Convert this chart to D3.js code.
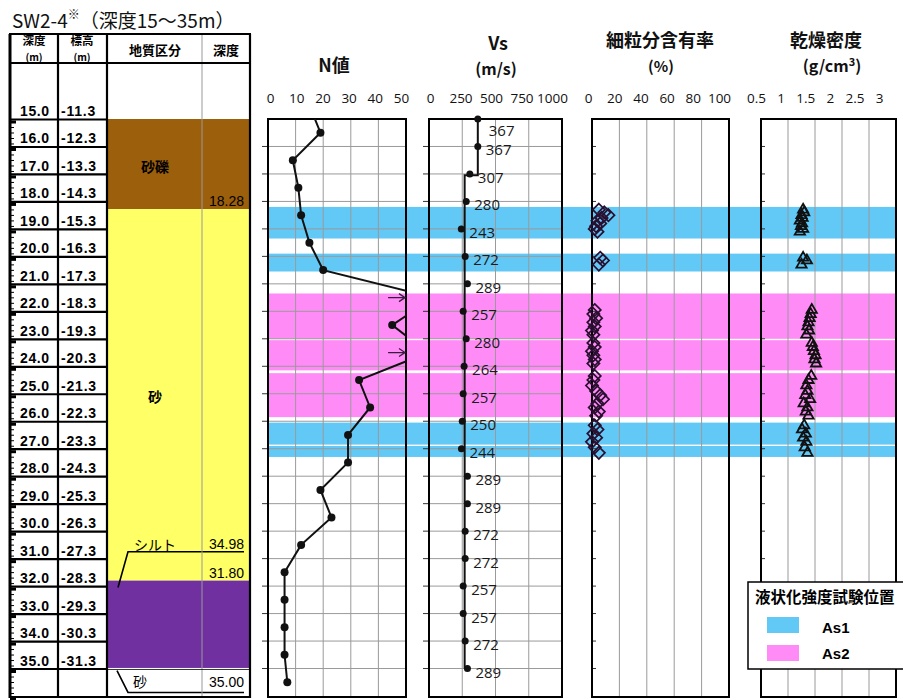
<!DOCTYPE html>
<html>
<head>
<meta charset="utf-8">
<script src="https://cdn.jsdelivr.net/npm/d3@7"></script>
<style>
  body { margin: 0; background: #fff; }
  svg { display: block; font-family: "Liberation Sans", "Noto Sans CJK JP", sans-serif; }
</style>
</head>
<body>
<div id="chart"></div>
<script>
// ---- data ----
var depthTicks = [15, 16, 17, 18, 19, 20, 21, 22, 23, 24, 25, 26, 27, 28, 29, 30, 31, 32, 33, 34, 35];
var depthLabels = ["15.0", "16.0", "17.0", "18.0", "19.0", "20.0", "21.0", "22.0", "23.0", "24.0", "25.0",
  "26.0", "27.0", "28.0", "29.0", "30.0", "31.0", "32.0", "33.0", "34.0", "35.0"];
var elevLabels = ["-11.3", "-12.3", "-13.3", "-14.3", "-15.3", "-16.3", "-17.3", "-18.3", "-19.3", "-20.3", "-21.3",
  "-22.3", "-23.3", "-24.3", "-25.3", "-26.3", "-27.3", "-28.3", "-29.3", "-30.3", "-31.3"];

// geology
var layerTop = [15.00, 18.28, 31.80, 34.98];
var layerBottom = [18.28, 31.80, 34.98, 35.00];
var layerName = ["砂礫", "砂", "シルト", "砂"];

// N value (SPT)
var nDepth = [14.5, 15.5, 16.5, 17.5, 18.5, 19.5, 20.5, 21.5, 22.5, 23.5, 24.5, 25.5, 26.5, 27.5, 28.5, 29.5, 30.5, 31.5, 32.5, 33.5, 34.5, 35.5];
var nValue = [15, 19, 9, 11, 12, 15, 20, 60, 45, 58, 33, 37, 29, 29, 19, 23, 12, 6, 6, 6, 6, 7];
var nTicks = [0, 10, 20, 30, 40, 50];

// Vs (PS logging)
var vsDepth = [15, 16, 17, 18, 19, 20, 21, 22, 23, 24, 25, 26, 27, 28, 29, 30, 31, 32, 33, 34, 35];
var vsValue = [367, 367, 307, 280, 243, 272, 289, 257, 280, 264, 257, 250, 244, 289, 289, 272, 272, 257, 257, 272, 289];
var vsStepDepth = [15, 17.05, 17.05, 35];
var vsStepValue = [367, 367, 268, 268];
var vsTicks = [0, 250, 500, 750, 1000];

// samples: fines content (%) and dry density (g/cm3)
var sampleDepth = [18.3, 18.4, 18.5, 18.6, 18.7, 18.8, 18.9, 19.0, 19.1,
  20.05, 20.15, 20.3,
  21.95, 22.1, 22.25, 22.4, 22.55, 22.7, 22.85,
  23.15, 23.3, 23.45, 23.6, 23.75, 23.9,
  24.35, 24.5, 24.7, 24.9, 25.05, 25.2, 25.35, 25.5, 25.65, 25.8,
  26.15, 26.3, 26.45, 26.6, 26.75, 26.95, 27.15];
var finesContent = [5, 9, 12, 7, 4, 6, 3, 2, 4,
  6, 8, 5,
  2, 1, 3, 1, 2, 0, 1,
  1, 2, 0, 1, 2, 1,
  2, 1, 0, 3, 6, 8, 4, 2, 5, 3,
  2, 4, 1, 3, 0, 2, 5];
var dryDensity = [1.28, 1.30, 1.25, 1.27, 1.22, 1.26, 1.24, 1.28, 1.22,
  1.28, 1.35, 1.25,
  1.44, 1.42, 1.40, 1.38, 1.36, 1.39, 1.34,
  1.44, 1.46, 1.48, 1.51, 1.49, 1.52,
  1.43, 1.38, 1.34, 1.36, 1.32, 1.41, 1.29, 1.36, 1.33, 1.38,
  1.30, 1.26, 1.33, 1.28, 1.34, 1.31, 1.36];
var fcTicks = [0, 20, 40, 60, 80, 100];
var ddTicks = [0.5, 1, 1.5, 2, 2.5, 3];

// liquefaction test sample positions
var bandTop = [18.2, 19.9, 26.05, 26.9, 21.35, 23.05, 24.25];
var bandBottom = [19.35, 20.55, 26.85, 27.3, 23.0, 24.15, 25.85];
var bandType = ["As1", "As1", "As1", "As1", "As2", "As2", "As2"];
var legendLabels = ["As1", "As2"];

// ---- styles ----
var layerColor = ["#9c5f0c", "#ffff66", "#7030a0", "#ffffff"];
var bandColor = { As1: "#62c8f6", As2: "#ff8cf6" };
var jp = "'Noto Sans CJK JP', sans-serif";

var svg = d3.select("#chart").append("svg").attr("width", 903).attr("height", 700);

var y = d3.scaleLinear().domain([15, 36]).range([119, 696]);
var plotTop = 119, plotBottom = 697;

// ---- title ----
var title = svg.append("text").attr("x", 12).attr("y", 28)
  .style("font-family", jp).style("font-size", "19px").attr("fill", "#111");
title.append("tspan").text("SW2-4");
title.append("tspan").attr("dy", -9).style("font-size", "12px").text("※");
title.append("tspan").attr("dy", 9).text("（深度15～35m）");

// ---- left table ----
var colX = [10, 58, 107, 202, 250];
var tbl = svg.append("g");

tbl.selectAll("rect.layer").data(layerTop).enter().append("rect")
  .attr("x", colX[2]).attr("width", colX[4] - colX[2])
  .attr("y", function (d) { return y(d); })
  .attr("height", function (d, i) { return y(layerBottom[i]) - y(d); })
  .attr("fill", function (d, i) { return layerColor[i]; });

// row lines for depth / elevation columns
tbl.selectAll("line.row").data(depthTicks).enter().append("line")
  .attr("x1", colX[0]).attr("x2", colX[2])
  .attr("y1", function (d) { return y(d) + 0.5; }).attr("y2", function (d) { return y(d) + 0.5; })
  .attr("stroke", "#000").attr("stroke-width", 2.2);

// ruler ticks in depth column
var rulerTicks = d3.range(150, 361, 2).map(function (v) { return v / 10; });
tbl.selectAll("line.rt").data(rulerTicks).enter().append("line")
  .attr("x1", colX[0]).attr("x2", function (d) { return Math.abs(d - Math.round(d)) < 0.01 ? colX[0] + 6 : colX[0] + 4; })
  .attr("y1", function (d) { return y(d) + 3; }).attr("y2", function (d) { return y(d) + 3; })
  .attr("stroke", "#000").attr("stroke-width", function (d) { return Math.abs(d - Math.round(d)) < 0.01 ? 3 : 1; });

tbl.selectAll("text.dep").data(depthLabels).enter().append("text")
  .attr("x", colX[0] + 10).attr("y", function (d, i) { return y(depthTicks[i]) - 3; })
  .style("font-size", "14px").style("font-weight", "bold").style("letter-spacing", "0.6px")
  .text(function (d) { return d; });
tbl.selectAll("text.elv").data(elevLabels).enter().append("text")
  .attr("x", colX[1] + 3).attr("y", function (d, i) { return y(depthTicks[i]) - 3; })
  .style("font-size", "14px").style("font-weight", "bold").style("letter-spacing", "0.8px")
  .text(function (d) { return d; });

// layer names and depths
var nameDepth = [16.75, 25.1, 30.75, 35.87];
tbl.append("text").attr("x", 155).attr("y", y(nameDepth[0]) + 5).attr("text-anchor", "middle")
  .style("font-family", jp).style("font-size", "14px").style("font-weight", "bold").text(layerName[0]);
tbl.append("text").attr("x", 155).attr("y", y(nameDepth[1]) + 5).attr("text-anchor", "middle")
  .style("font-family", jp).style("font-size", "14px").style("font-weight", "bold").text(layerName[1]);
tbl.append("text").attr("x", 244).attr("y", y(layerBottom[0]) - 3).attr("text-anchor", "end")
  .style("font-size", "14px").text(layerBottom[0].toFixed(2));
tbl.append("text").attr("x", 244).attr("y", y(layerBottom[1]) - 3).attr("text-anchor", "end")
  .style("font-size", "14px").text(layerBottom[1].toFixed(2));

// silt label with leader
var yS = y(nameDepth[2]);
tbl.append("text").attr("x", 155).attr("y", yS - 2).attr("text-anchor", "middle")
  .style("font-family", jp).style("font-size", "14px").text(layerName[2]);
tbl.append("text").attr("x", 244).attr("y", yS - 3).attr("text-anchor", "end")
  .style("font-size", "14px").text(layerBottom[2].toFixed(2));
tbl.append("polyline").attr("points", [[118, y(32.05)], [128, yS], [244, yS]].join(" "))
  .attr("fill", "none").attr("stroke", "#000").attr("stroke-width", 1.6);

// bottom sand label with leader
var yB = y(nameDepth[3]);
tbl.append("text").attr("x", 140).attr("y", yB - 5).attr("text-anchor", "middle")
  .style("font-family", jp).style("font-size", "14px").text(layerName[3]);
tbl.append("text").attr("x", 244).attr("y", yB - 5).attr("text-anchor", "end")
  .style("font-size", "14px").text(layerBottom[3].toFixed(2));
tbl.append("polyline").attr("points", [[117, y(layerBottom[3]) + 2], [128, yB], [244, yB]].join(" "))
  .attr("fill", "none").attr("stroke", "#000").attr("stroke-width", 1.6);

// table frame
tbl.append("line").attr("x1", colX[3]).attr("x2", colX[3]).attr("y1", 63).attr("y2", plotBottom)
  .attr("stroke", "#999").attr("stroke-width", 1);
[[colX[0], 3], [colX[1], 2.2], [colX[2], 2.2], [colX[4], 2.2]].forEach(function (c) {
  tbl.append("line").attr("x1", c[0]).attr("x2", c[0]).attr("y1", 34).attr("y2", plotBottom + 1)
    .attr("stroke", "#000").attr("stroke-width", c[1]);
});
tbl.append("line").attr("x1", colX[3]).attr("x2", colX[3]).attr("y1", 34).attr("y2", 63).attr("stroke", "#999");
[34, 63, plotBottom].forEach(function (yy) {
  tbl.append("line").attr("x1", colX[0] - 1).attr("x2", colX[4] + 1).attr("y1", yy).attr("y2", yy)
    .attr("stroke", "#000").attr("stroke-width", 2.2);
});
tbl.append("line").attr("x1", colX[2]).attr("x2", colX[4]).attr("y1", y(layerBottom[2]) + 1.5).attr("y2", y(layerBottom[2]) + 1.5)
  .attr("stroke", "#000").attr("stroke-width", 0.8);

// headers
function hdr(x, yy, t, size) {
  tbl.append("text").attr("x", x).attr("y", yy).attr("text-anchor", "middle")
    .style("font-family", jp).style("font-size", size + "px").style("font-weight", "bold").text(t);
}
hdr(34, 45, "深度", 11.5); hdr(34, 61, "(m)", 10);
hdr(82, 45, "標高", 11.5); hdr(82, 61, "(m)", 10);
hdr(155, 55, "地質区分", 13); hdr(226, 55, "深度", 13);

// ---- bands ----
svg.append("g").selectAll("rect").data(bandTop).enter().append("rect")
  .attr("x", 268).attr("width", 897 - 268)
  .attr("y", function (d) { return y(d); })
  .attr("height", function (d, i) { return y(bandBottom[i]) - y(d); })
  .attr("fill", function (d, i) { return bandColor[bandType[i]]; });

// ---- panels ----
var panels = [
  { x: d3.scaleLinear().domain([0, 50]).range([268, 406]), ticks: nTicks, lab: [270, 401], hgrid: true, out: true },
  { x: d3.scaleLinear().domain([0, 1000]).range([429, 562]), ticks: vsTicks, lab: [430, 552], hgrid: true, out: true },
  { x: d3.scaleLinear().domain([0, 100]).range([592, 729]), ticks: fcTicks, lab: [588, 719], hgrid: false, out: false },
  { x: d3.scaleLinear().domain([0.5, 3]).range([761, 896]), ticks: ddTicks, lab: [756, 879], hgrid: false, out: false }
];
var inner = depthTicks.slice(1);

panels.forEach(function (p, k) {
  var g = svg.append("g");
  var x0 = p.x.range()[0], x1 = p.x.range()[1];
  if (p.hgrid) {
    g.selectAll("line.h").data(inner).enter().append("line")
      .attr("x1", x0).attr("x2", x1)
      .attr("y1", function (d) { return y(d); }).attr("y2", function (d) { return y(d); })
      .attr("stroke", "#9a9a9a").attr("stroke-width", 1);
  }
  g.selectAll("line.v").data(p.ticks.slice(1, -1)).enter().append("line")
    .attr("x1", function (d) { return p.x(d); }).attr("x2", function (d) { return p.x(d); })
    .attr("y1", plotTop).attr("y2", plotBottom)
    .attr("stroke", "#9a9a9a").attr("stroke-width", 1);
  // depth ticks
  g.selectAll("line.t").data(inner).enter().append("line")
    .attr("x1", p.out ? x0 - 6 : x0).attr("x2", p.out ? x0 : x0 + 4)
    .attr("y1", function (d) { return y(d); }).attr("y2", function (d) { return y(d); })
    .attr("stroke", "#333").attr("stroke-width", 1);
  g.append("rect").attr("x", x0).attr("y", plotTop).attr("width", x1 - x0).attr("height", plotBottom - plotTop)
    .attr("fill", "none").attr("stroke", "#000").attr("stroke-width", 2);

  // tick labels along top
  var lab = d3.scalePoint().domain(p.ticks.map(String)).range(p.lab);
  var ax = g.append("g").attr("transform", "translate(0,103)")
    .call(d3.axisTop(lab).tickSize(0).tickPadding(0));
  ax.select(".domain").remove();
  ax.selectAll("text").attr("font-family", "'Open Sans', sans-serif").attr("font-size", 13.5).attr("fill", "#111");

  g.append("clipPath").attr("id", "clip" + k).append("rect")
    .attr("x", x0).attr("y", plotTop).attr("width", x1 - x0).attr("height", plotBottom - plotTop);
  p.g = g.append("g").attr("clip-path", "url(#clip" + k + ")");
});

// panel titles
function ttl(x, yy, t, size, bold) {
  svg.append("text").attr("x", x).attr("y", yy).attr("text-anchor", "middle")
    .style("font-family", jp).style("font-size", size + "px").style("font-weight", bold ? "bold" : "normal")
    .attr("fill", "#111").text(t);
}
ttl(334, 72, "N値", 18, true);
ttl(498, 50, "Vs", 18, true);
ttl(496, 75, "(m/s)", 16, true);
ttl(660, 47, "細粒分含有率", 18, true);
ttl(661, 72, "(%)", 15, true);
ttl(826, 47, "乾燥密度", 18, true);
var gcm = svg.append("text").attr("x", 832).attr("y", 72).attr("text-anchor", "middle")
  .style("font-family", jp).style("font-size", "16px").style("font-weight", "bold").attr("fill", "#111");
gcm.append("tspan").text("(g/cm");
gcm.append("tspan").attr("dy", -6).style("font-size", "11px").text("3");
gcm.append("tspan").attr("dy", 6).text(")");

// ---- N value ----
var nx = panels[0].x;
var nPts = nDepth.map(function (d, i) { return [nx(nValue[i]), y(d)]; });
panels[0].g.append("path").attr("d", d3.line()(nPts))
  .attr("fill", "none").attr("stroke", "#111").attr("stroke-width", 2);
panels[0].g.selectAll("circle").data(nDepth.filter(function (d, i) { return nValue[i] <= 50; })).enter()
  .append("circle")
  .attr("cx", function (d) { return nx(nValue[nDepth.indexOf(d)]); })
  .attr("cy", function (d) { return y(d); })
  .attr("r", 4).attr("fill", "#111");
// arrows for N > 50
nDepth.forEach(function (d, i) {
  if (nValue[i] <= 50) return;
  var ya = y(d), xa = nx(50) - 1;
  panels[0].g.append("path")
    .attr("d", "M" + nx(43.5) + "," + ya + "H" + xa + "M" + (xa - 6) + "," + (ya - 4) + "L" + xa + "," + ya + "L" + (xa - 6) + "," + (ya + 4))
    .attr("fill", "none").attr("stroke", "#3a1a40").attr("stroke-width", 1.3);
});

// ---- Vs ----
var vx = panels[1].x;
var stepPts = vsStepDepth.map(function (d, i) { return [vx(vsStepValue[i]), y(d)]; });
panels[1].g.append("path").attr("d", d3.line()(stepPts))
  .attr("fill", "none").attr("stroke", "#111").attr("stroke-width", 2);
var vsG = svg.append("g");
vsG.selectAll("circle").data(vsDepth).enter().append("circle")
  .attr("cx", function (d, i) { return vx(vsValue[i]); })
  .attr("cy", function (d) { return y(d); })
  .attr("r", 3.5).attr("fill", "#111");
vsG.selectAll("text").data(vsDepth).enter().append("text")
  .attr("x", function (d, i) { return vx(vsValue[i]) + (i === 0 ? 11 : 8); })
  .attr("y", function (d, i) { return i === 0 ? y(d) + 17 : y(d) + 9; })
  .style("font-family", "'Open Sans', sans-serif").style("font-size", "15px").attr("fill", "#1a1a1a")
  .text(function (d, i) { return vsValue[i]; });

// ---- fines content (diamonds) ----
var fx = panels[2].x;
svg.append("g").selectAll("path").data(sampleDepth).enter().append("path")
  .attr("d", d3.symbol().type(d3.symbolDiamond2).size(95))
  .attr("transform", function (d, i) { return "translate(" + fx(finesContent[i]) + "," + y(d) + ")"; })
  .attr("fill", "none").attr("stroke", "#2a1030").attr("stroke-width", 1.7);

// ---- dry density (triangles) ----
var dx = panels[3].x;
svg.append("g").selectAll("path").data(sampleDepth).enter().append("path")
  .attr("d", d3.symbol().type(d3.symbolTriangle2).size(75))
  .attr("transform", function (d, i) { return "translate(" + dx(dryDensity[i]) + "," + y(d) + ")"; })
  .attr("fill", "none").attr("stroke", "#111").attr("stroke-width", 1.8);

// ---- legend ----
var lg = svg.append("g");
lg.append("rect").attr("x", 748).attr("y", 582).attr("width", 170).attr("height", 87)
  .attr("fill", "#fff").attr("stroke", "#000").attr("stroke-width", 1.5);
lg.append("text").attr("x", 755).attr("y", 603)
  .style("font-family", jp).style("font-size", "15.5px").style("font-weight", "bold").text("液状化強度試験位置");
legendLabels.forEach(function (l, i) {
  lg.append("rect").attr("x", 767).attr("y", 617 + i * 28).attr("width", 32).attr("height", 16).attr("fill", bandColor[l]);
  lg.append("text").attr("x", 822).attr("y", 633 + i * 26)
    .style("font-size", "15px").style("font-weight", "bold").text(l);
});
</script>
</body>
</html>
